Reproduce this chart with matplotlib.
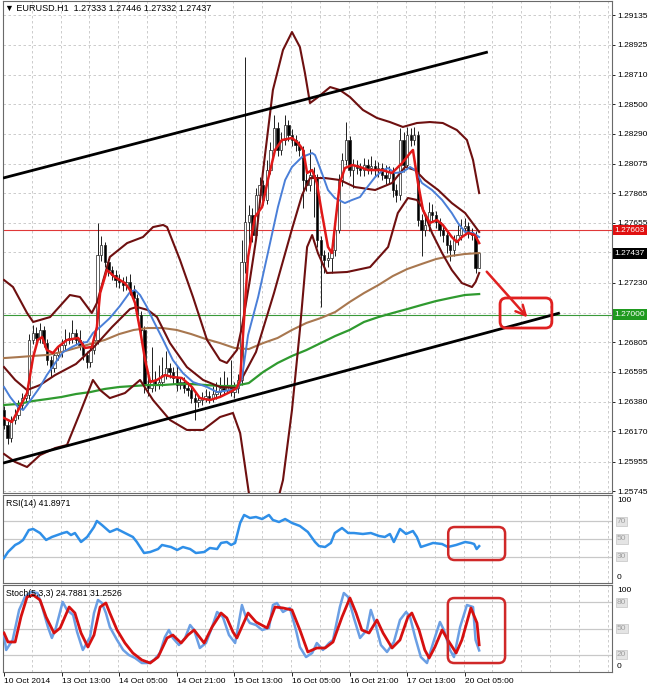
import matplotlib
matplotlib.use("Agg")
import matplotlib.pyplot as plt
import numpy as np
from matplotlib.patches import FancyBboxPatch

plt.rcParams['font.family'] = ['Liberation Sans', 'DejaVu Sans']

# ---------------- data (EURUSD H1) ----------------
open_ = [
1.26320, 1.26215, 1.26123, 1.26251, 1.26286, 1.26358, 1.26407, 1.26429, 1.26821, 1.26870,
1.26835, 1.26892, 1.26799, 1.26678, 1.26621, 1.26714, 1.26735, 1.26785, 1.26821, 1.26835,
1.26870, 1.26821, 1.26785, 1.26714, 1.26664, 1.26749, 1.26821, 1.27426, 1.27497, 1.27376,
1.27319, 1.27283, 1.27248, 1.27234, 1.27212, 1.27234, 1.27177, 1.27120, 1.26999, 1.26892,
1.26500, 1.26479, 1.26536, 1.26500, 1.26521, 1.26571, 1.26621, 1.26593, 1.26550, 1.26500,
1.26521, 1.26479, 1.26464, 1.26407, 1.26379, 1.26393, 1.26407, 1.26422, 1.26407, 1.26436,
1.26450, 1.26479, 1.26464, 1.26500, 1.26450, 1.26479, 1.26536, 1.27376, 1.27661, 1.27711,
1.27568, 1.27853, 1.27924, 1.27818, 1.28031, 1.28174, 1.28330, 1.28174, 1.28245, 1.28352,
1.28280, 1.28245, 1.28209, 1.28174, 1.27960, 1.27924, 1.27996, 1.27974, 1.27533, 1.27426,
1.27390, 1.27405, 1.27461, 1.27604, 1.27960, 1.28102, 1.28245, 1.28031, 1.28067, 1.28046,
1.28031, 1.28067, 1.28046, 1.28060, 1.28031, 1.28046, 1.27996, 1.27974, 1.28017, 1.27889,
1.27853, 1.28245, 1.28067, 1.28280, 1.28245, 1.28280, 1.27675, 1.27604, 1.27640, 1.27732,
1.27711, 1.27661, 1.27604, 1.27568, 1.27497, 1.27461, 1.27533, 1.27568, 1.27618, 1.27632,
1.27590, 1.27568, 1.27333]
high = [
1.26350, 1.26245, 1.26280, 1.26330, 1.26390, 1.26440, 1.26470, 1.26860, 1.26930, 1.26910,
1.26940, 1.26920, 1.26830, 1.26710, 1.26750, 1.26780, 1.26830, 1.26900, 1.26880, 1.26960,
1.26900, 1.26890, 1.26810, 1.26740, 1.26780, 1.26860, 1.27654, 1.27560, 1.27520, 1.27400,
1.27350, 1.27320, 1.27290, 1.27270, 1.27280, 1.27290, 1.27210, 1.27150, 1.27030, 1.26920,
1.26560, 1.26770, 1.26600, 1.26640, 1.26700, 1.26740, 1.26660, 1.26630, 1.26640, 1.26560,
1.26560, 1.26520, 1.26500, 1.26440, 1.26430, 1.26450, 1.26470, 1.26460, 1.26490, 1.26520,
1.26560, 1.26600, 1.26560, 1.26680, 1.26520, 1.26580, 1.27533, 1.28836, 1.27780, 1.27760,
1.27900, 1.27980, 1.27960, 1.28100, 1.28230, 1.28423, 1.28370, 1.28300, 1.28423, 1.28390,
1.28320, 1.28280, 1.28240, 1.28200, 1.28010, 1.28180, 1.28050, 1.28000, 1.27560, 1.27460,
1.27450, 1.27530, 1.27650, 1.28000, 1.28150, 1.28373, 1.28270, 1.28110, 1.28100, 1.28080,
1.28120, 1.28110, 1.28130, 1.28100, 1.28090, 1.28080, 1.28070, 1.28060, 1.28050, 1.27930,
1.28330, 1.28300, 1.28340, 1.28330, 1.28340, 1.28310, 1.27720, 1.27700, 1.27800, 1.27790,
1.27740, 1.27690, 1.27640, 1.27600, 1.27530, 1.27570, 1.27640, 1.27680, 1.27690, 1.27660,
1.27620, 1.27600, 1.27446]
low = [
1.26185, 1.26080, 1.26095, 1.26220, 1.26255, 1.26330, 1.26380, 1.26400, 1.26790, 1.26800,
1.26800, 1.26770, 1.26640, 1.26560, 1.26590, 1.26680, 1.26700, 1.26750, 1.26790, 1.26800,
1.26790, 1.26750, 1.26680, 1.26620, 1.26630, 1.26720, 1.26790, 1.27380, 1.27340, 1.27280,
1.27250, 1.27200, 1.27190, 1.27170, 1.27180, 1.27140, 1.27080, 1.26960, 1.26850, 1.26440,
1.26420, 1.26450, 1.26460, 1.26470, 1.26490, 1.26540, 1.26550, 1.26510, 1.26460, 1.26470,
1.26440, 1.26420, 1.26370, 1.26251, 1.26340, 1.26360, 1.26380, 1.26370, 1.26380, 1.26400,
1.26420, 1.26430, 1.26440, 1.26420, 1.26410, 1.26440, 1.26500, 1.27300, 1.27500, 1.27520,
1.27540, 1.27800, 1.27780, 1.27790, 1.28000, 1.28140, 1.28130, 1.28140, 1.28210, 1.28240,
1.28200, 1.28170, 1.28130, 1.27760, 1.27880, 1.27880, 1.27700, 1.27480, 1.27056, 1.27300,
1.27340, 1.27300, 1.27420, 1.27580, 1.27920, 1.28070, 1.27990, 1.27900, 1.28000, 1.27990,
1.27990, 1.28000, 1.28000, 1.27990, 1.27980, 1.27960, 1.27930, 1.27940, 1.27840, 1.27800,
1.27820, 1.28020, 1.28040, 1.28200, 1.28210, 1.27630, 1.27420, 1.27560, 1.27600, 1.27670,
1.27620, 1.27560, 1.27520, 1.27440, 1.27380, 1.27420, 1.27500, 1.27530, 1.27580, 1.27550,
1.27530, 1.27300, 1.27332]
close = [
1.26215, 1.26123, 1.26251, 1.26286, 1.26358, 1.26407, 1.26429, 1.26821, 1.26870, 1.26835,
1.26892, 1.26799, 1.26678, 1.26621, 1.26714, 1.26735, 1.26785, 1.26821, 1.26835, 1.26870,
1.26821, 1.26785, 1.26714, 1.26664, 1.26749, 1.26821, 1.27426, 1.27497, 1.27376, 1.27319,
1.27283, 1.27248, 1.27234, 1.27212, 1.27234, 1.27177, 1.27120, 1.26999, 1.26892, 1.26500,
1.26479, 1.26536, 1.26500, 1.26521, 1.26571, 1.26621, 1.26593, 1.26550, 1.26500, 1.26521,
1.26479, 1.26464, 1.26407, 1.26379, 1.26393, 1.26407, 1.26422, 1.26407, 1.26436, 1.26450,
1.26479, 1.26464, 1.26500, 1.26450, 1.26479, 1.26536, 1.27376, 1.27661, 1.27711, 1.27568,
1.27853, 1.27924, 1.27818, 1.28031, 1.28174, 1.28330, 1.28174, 1.28245, 1.28352, 1.28280,
1.28245, 1.28209, 1.28174, 1.27960, 1.27924, 1.27996, 1.27974, 1.27533, 1.27426, 1.27390,
1.27405, 1.27461, 1.27604, 1.27960, 1.28102, 1.28245, 1.28031, 1.28067, 1.28046, 1.28031,
1.28067, 1.28046, 1.28060, 1.28031, 1.28046, 1.27996, 1.27974, 1.28017, 1.27889, 1.27853,
1.28245, 1.28067, 1.28280, 1.28245, 1.28280, 1.27675, 1.27604, 1.27640, 1.27732, 1.27711,
1.27661, 1.27604, 1.27568, 1.27497, 1.27461, 1.27533, 1.27568, 1.27618, 1.27632, 1.27590,
1.27568, 1.27333, 1.27437]

# fast MA (red)
red_ma_bar = [0, 2.2, 4.4, 6.4, 8.1, 9.4, 10.6, 11.9, 13.6, 15, 17.5, 20.6, 22.5, 24.4, 25.8, 26.7,
              28.6, 30.8, 33.6, 35, 36.4, 37.8, 39.2, 40.6, 42.5, 44.7, 46.9, 49.4, 52.2, 54.4, 57.2,
              60, 62.8, 64.7, 65.6, 66.9, 67.8, 69.7, 71.7, 73.3, 75.3, 77.2, 80, 81.7, 83.1, 84.2,
              85.6, 86.9, 88.3, 90, 91.1, 91.9, 93.3, 94.7, 96.7, 98.9, 101.1, 105, 107.8, 110.6,
              112.8, 113.6, 115, 116.4, 118.3, 120.3, 121.9, 124.4, 125.8, 127.2, 128.9, 130.8, 132]
red_ma_val = [1.26265, 1.26237, 1.26343, 1.26443, 1.26699, 1.26821, 1.26842, 1.26749, 1.26728, 1.26771,
              1.26821, 1.26835, 1.26764, 1.26771, 1.26913, 1.27155, 1.27319, 1.27269, 1.27226, 1.27177,
              1.27084, 1.26892, 1.26678, 1.26521, 1.26536, 1.26571, 1.26557, 1.26550, 1.26486, 1.26407,
              1.26393, 1.26415, 1.26450, 1.26479, 1.26536, 1.27056, 1.27412, 1.27697, 1.27768, 1.27960,
              1.28174, 1.28245, 1.28259, 1.28224, 1.28174, 1.28010, 1.28031, 1.27939, 1.27725, 1.27483,
              1.27440, 1.27625, 1.27939, 1.28045, 1.28067, 1.28053, 1.28031, 1.28031, 1.28010, 1.28081,
              1.28152, 1.28174, 1.27939, 1.27746, 1.27654, 1.27675, 1.27640, 1.27554, 1.27518, 1.27554,
              1.27583, 1.27568, 1.27511]

# slower MA (blue)
blue_ma_bar = [0, 1.7, 3.9, 5.3, 7.8, 10, 11.9, 14.2, 16.4, 18.9, 21.1, 23.1, 24.7, 26.7, 29.4, 32.2,
               35, 36.4, 37.8, 39.7, 41.4, 44.2, 46.9, 49.7, 52.5, 56.4, 59.2, 62.8, 64.7, 66.1, 67.8,
               70.6, 73.3, 76.1, 78.1, 80, 82.8, 85.6, 86.4, 88.3, 90, 91.9, 94.7, 96.7, 98.9, 100.3,
               103.1, 105.3, 106.7, 108.6, 110.8, 112.8, 114.2, 116.1, 118.9, 121.7, 124.4, 126.1,
               128.1, 130.3, 132]
blue_ma_val = [1.26486, 1.26415, 1.26343, 1.26322, 1.26407, 1.26486, 1.26571, 1.26657, 1.26735, 1.26771,
               1.26799, 1.26806, 1.26870, 1.26913, 1.26977, 1.27063, 1.27162, 1.27177, 1.27141, 1.27056,
               1.26963, 1.26821, 1.26678, 1.26585, 1.26521, 1.26486, 1.26450, 1.26464, 1.26471, 1.26550,
               1.26856, 1.27127, 1.27440, 1.27768, 1.27960, 1.28053, 1.28124, 1.28152, 1.28138, 1.28010,
               1.27889, 1.27832, 1.27796, 1.27818, 1.27839, 1.27889, 1.27981, 1.28031, 1.28045, 1.28010,
               1.28017, 1.28053, 1.28031, 1.27939, 1.27889, 1.27818, 1.27725, 1.27654, 1.27590, 1.27583,
               1.27554]

# Bollinger bands (maroon)
bb_up_bar = [0, 2.5, 6.4, 8.1, 12.8, 18.3, 21.1, 24.4, 25.8, 29.4, 34.2, 38.6, 41.4, 44.2, 45.3, 48.9,
             52.5, 56.4, 60, 61.9, 64.7, 66.1, 68.3, 70, 71.9, 74.7, 77.5, 80, 82.2, 83.6, 85, 86.9,
             90.6, 93.3, 96.1, 99.7, 103.6, 107.2, 110.8, 114.7, 118.3, 121.9, 125.8, 128.6, 130.3, 132]
bb_up_val = [1.27248, 1.27198, 1.27013, 1.26949, 1.26984, 1.27141, 1.27127, 1.27013, 1.27084, 1.27412,
             1.27511, 1.27554, 1.27625, 1.27640, 1.27625, 1.27390, 1.27127, 1.26821, 1.26678, 1.26657,
             1.26749, 1.26913, 1.27248, 1.27533, 1.28010, 1.28601, 1.28886, 1.29014, 1.28907, 1.28722,
             1.28508, 1.28544, 1.28622, 1.28601, 1.28551, 1.28459, 1.28402, 1.28373, 1.28338, 1.28366,
             1.28373, 1.28366, 1.28316, 1.28245, 1.28102, 1.27867]
bb_mid_bar = [0, 3.1, 6.4, 10, 14.2, 20, 25, 30, 35, 36.9, 40, 42.5, 46.1, 50.8, 55.3, 60, 64.7, 70,
              75, 80, 82.8, 85, 89.2, 93.3, 97.5, 103.1, 107.8, 111.4, 114.2, 116.9, 120.6, 124.4,
              128.1, 132]
bb_mid_val = [1.26628, 1.26536, 1.26464, 1.26500, 1.26571, 1.26650, 1.26771, 1.26913, 1.27041, 1.27056,
              1.27034, 1.26984, 1.26799, 1.26628, 1.26536, 1.26486, 1.26479, 1.26735, 1.27155, 1.27611,
              1.27853, 1.27974, 1.27974, 1.27960, 1.27910, 1.27889, 1.27939, 1.28053, 1.28031, 1.27960,
              1.27889, 1.27796, 1.27725, 1.27590]
bb_lo_bar = [0, 3.1, 6.4, 10, 14.2, 17.5, 21.1, 24.7, 26.7, 29.4, 33.6, 37.8, 41.4, 46.1, 50.8, 55.3,
             60, 63.6, 65.6, 66.9, 68.3, 70, 72.5, 75, 77.5, 80, 82.2, 84.2, 85.6, 87.2, 89.7, 95.3,
             101.7, 106.7, 109.4, 112.2, 114.7, 116.1, 118.9, 121.7, 124.4, 127.2, 130, 131, 132]
bb_lo_val = [1.26009, 1.25952, 1.25916, 1.26001, 1.26051, 1.26073, 1.26301, 1.26536, 1.26464, 1.26407,
             1.26443, 1.26536, 1.26393, 1.26251, 1.26180, 1.26180, 1.26272, 1.26301, 1.26158, 1.25930,
             1.25681, 1.25539, 1.25467, 1.25574, 1.25823, 1.26322, 1.26892, 1.27483, 1.27568, 1.27440,
             1.27298, 1.27305, 1.27340, 1.27483, 1.27725, 1.27832, 1.27818, 1.27768, 1.27583, 1.27440,
             1.27319, 1.27226, 1.27198, 1.27233, 1.27298]

# long MAs, sampled every 4 bars
ma_long_bar = list(range(0, 133, 4))
brown_ma_val = [1.26692, 1.26699, 1.26707, 1.26714, 1.26735, 1.26764, 1.26792, 1.26821, 1.26863, 1.26892,
                1.26906, 1.26906, 1.26892, 1.26863, 1.26828, 1.26799, 1.26764, 1.26756, 1.26799, 1.26835,
                1.26892, 1.26942, 1.26977, 1.27020, 1.27091, 1.27155, 1.27212, 1.27276, 1.27326, 1.27362,
                1.27397, 1.27419, 1.27433, 1.27440]
green_ma_val = [1.26358, 1.26365, 1.26386, 1.26400, 1.26415, 1.26436, 1.26450, 1.26472, 1.26486, 1.26493,
                1.26500, 1.26500, 1.26507, 1.26507, 1.26500, 1.26493, 1.26493, 1.26514, 1.26593, 1.26657,
                1.26707, 1.26749, 1.26799, 1.26849, 1.26892, 1.26949, 1.26984, 1.27013, 1.27041, 1.27070,
                1.27098, 1.27120, 1.27141, 1.27148]

# trend channel
chan_up_bar = [-0.28, 134.4]
chan_up_val = [1.27974, 1.28872]
chan_lo_bar = [-0.28, 154.4]
chan_lo_val = [1.25944, 1.27013]
level_red = 1.27603
level_green = 1.27000
last_price = 1.27437

# RSI(14)
rsi_bar = [0, 1.1, 3.1, 4.2, 5.3, 6.9, 8.1, 10, 11.7, 13.3, 16.4, 17.5, 18.6, 19.7, 21.4, 23.1, 25, 25.8,
           27.2, 29.4, 31.4, 33.6, 35.8, 36.9, 38.9, 40.6, 42.8, 43.9, 46.4, 48.1, 49.7, 51.7, 53.3, 55.6,
           57.2, 59.2, 60.3, 61.9, 63.1, 64.2, 65.6, 66.7, 68.3, 70, 71.7, 73.6, 74.7, 76.4, 78.1, 80,
           82.2, 84.4, 86.4, 87.5, 89.2, 90.8, 91.9, 93.9, 95.6, 97.2, 99.7, 101.9, 104.2, 105.8, 107.2,
           108.3, 110, 111.7, 113.6, 114.7, 115.8, 117.5, 119.2, 121.7, 123.3, 125.6, 128.1, 129.7,
           130.6, 131.3, 132]
rsi_val = [28.4, 35.2, 43.2, 45.5, 48.9, 60.2, 61.4, 56.8, 48.9, 52.3, 56.8, 58, 54.5, 56.8, 46.6, 52.3,
           63.6, 70.5, 65.9, 58, 61.4, 56.8, 52.3, 46.6, 34.1, 35.2, 38.6, 43.2, 40.9, 37.5, 40.9, 38.6,
           34.1, 35.2, 39.8, 38.6, 45.5, 46.6, 43.2, 45.5, 68.2, 77.3, 73.9, 75, 72.7, 77.3, 71.6, 69.3,
           72.7, 68.2, 64.8, 58, 46.6, 42, 40.9, 45.5, 56.8, 62.5, 56.8, 56.8, 55.7, 56.8, 53.4, 52.3,
           55.7, 46.6, 61.4, 55.7, 59.1, 52.3, 40.9, 43.2, 45.5, 44.3, 40.9, 43.2, 46.6, 45.5, 44.3,
           38.6, 41.9]

# Stochastic(5,3,3)
stk_bar = [0, 0.6, 2.4, 4.2, 5.8, 7.5, 9.3, 10.6, 12.2, 13.3, 14.4, 16.3, 17.5, 19.2, 20.3, 21.9, 23.9,
           25, 26.1, 27.2, 28.3, 29.4, 31.4, 33.1, 34.7, 36.4, 38.3, 40, 41.7, 43.3, 44.7, 45.8, 46.9,
           48.6, 50.3, 51.7, 52.8, 54.4, 56.1, 57.8, 59.2, 60.8, 62.5, 64.2, 66.1, 67.2, 68.3, 70, 71.7,
           73.6, 74.7, 75.8, 77.5, 79.4, 81.1, 82.2, 83.9, 85.6, 86.9, 88.6, 90.3, 91.4, 93.3, 94.4,
           95.6, 97.2, 98.9, 100.8, 101.9, 103.1, 104.7, 106.4, 108.3, 110, 111.7, 112.8, 114.2, 115.8,
           117.5, 119.2, 121.1, 122.2, 123.9, 125, 126.7, 128.6, 130.3, 131, 132]
stk_val = [42.5, 25.3, 36.8, 71.3, 86.2, 92, 90.8, 74.7, 51.7, 39.1, 50.6, 80.5, 71.3, 65.5, 46, 25.3,
           40.2, 67.8, 82.8, 79.3, 67.8, 51.7, 36.8, 25.3, 19.5, 16.1, 10.3, 10.3, 13.8, 21.8, 40.2, 48.3,
           39.1, 31, 39.1, 54, 48.3, 27.6, 33.3, 51.7, 69, 63.2, 42.5, 33.3, 77, 63.2, 56.3, 54, 48.3,
           50.6, 77, 79.3, 69, 73.6, 48.3, 28.7, 17.2, 21.8, 33.3, 25.3, 33.3, 36.8, 74.7, 90.8, 86.2,
           62.1, 39.1, 48.3, 71.3, 56.3, 31, 23, 34.5, 59.8, 69, 63.2, 40.2, 17.2, 10.3, 33.3, 57.5,
           48.3, 25.3, 17.2, 51.7, 77, 74.7, 36.8, 24.8]
std_bar = [0, 1.1, 3.1, 4.7, 6.4, 8.1, 10, 11.7, 13.9, 15.6, 18.1, 19.7, 21.4, 23.3, 25, 26.7, 28.3,
           29.4, 31.4, 33.6, 35.8, 38.3, 40.6, 42.8, 45.3, 46.9, 49.2, 51.1, 52.8, 55.6, 57.8, 60.3,
           61.9, 63.6, 64.7, 67.8, 70, 73.1, 75.3, 77.5, 80, 82.2, 84.4, 86.9, 89.2, 91.4, 93.9, 96.1,
           97.8, 99.4, 101.4, 103.6, 105.3, 107.8, 110, 112.2, 113.3, 115.3, 116.9, 118.1, 119.7,
           121.7, 123.3, 125.6, 127.2, 129.7, 131.4, 132]
std_val = [44.8, 34.5, 34.5, 63.2, 86.2, 88.5, 82.8, 63.2, 44.8, 50.6, 74.7, 67.8, 44.8, 28.7, 42.5, 74.7,
           79.3, 67.8, 48.3, 33.3, 21.8, 13.8, 10.3, 17.2, 39.1, 42.5, 33.3, 42.5, 48.3, 33.3, 51.7, 67.8,
           62.1, 46, 39.1, 67.8, 57.5, 50.6, 74.7, 73.6, 71.3, 48.3, 23, 27.6, 27.6, 34.5, 63.2, 85.1,
           67.8, 48.3, 44.8, 59.8, 44.8, 27.6, 36.8, 63.2, 67.8, 48.3, 25.3, 16.1, 28.7, 48.3, 36.8,
           21.8, 36.8, 73.6, 56.3, 31.25]

price_ticks = [1.29135, 1.28925, 1.28710, 1.28500, 1.28290, 1.28075, 1.27865, 1.27655, 1.27445,
               1.27230, 1.27015, 1.26805, 1.26595, 1.26380, 1.26170, 1.25955, 1.25745]
time_bars = [0, 16, 32, 48, 64, 80, 96, 112, 128]
time_labels = ['10 Oct 2014', '13 Oct 13:00', '14 Oct 05:00', '14 Oct 21:00', '15 Oct 13:00',
               '16 Oct 05:00', '16 Oct 21:00', '17 Oct 13:00', '20 Oct 05:00']
header = "\u25BC EURUSD.H1  1.27333 1.27446 1.27332 1.27437"

# ---------------- figure ----------------
W, H = 650, 690
fig = plt.figure(figsize=(W / 100, H / 100), dpi=100)
fig.patch.set_facecolor('white')


def add_ax(l, t, r, b):
    return fig.add_axes([l / W, 1 - b / H, (r - l) / W, (b - t) / H])


ax = add_ax(3, 1, 612, 493)
ar = add_ax(3, 495, 612, 583)
ast = add_ax(3, 585, 612, 672)

GRID = '#c4c4c4'
FS = 6
for a in (ax, ar, ast):
    a.set_xlim(-0.28, 168.9)
    a.set_facecolor('white')
    for s in a.spines.values():
        s.set_color('#6a6a6a')
        s.set_linewidth(0.8)
    for k in range(1, 22):
        a.axvline(8 * k - 0.3, color=GRID, lw=0.6, ls=(0, (3, 3)), zorder=0)
    a.tick_params(axis='x', bottom=False, labelbottom=False)

# ---- main price panel ----
ax.set_ylim(1.25731, 1.29235)
ax.yaxis.tick_right()
ax.set_yticks(price_ticks)
ax.set_yticklabels(['' if t in (1.27445, 1.27015) else f'{t:.5f}' for t in price_ticks])
ax.tick_params(axis='y', direction='out', length=2.5, width=0.6, labelsize=FS, pad=1.2)
ax.grid(axis='y', color=GRID, lw=0.6, ls=(0, (3, 3)), zorder=0)

o = np.array(open_); hi = np.array(high); lo = np.array(low); c = np.array(close)
idx = np.arange(len(c))
bull = c >= o
ax.vlines(idx, lo, hi, color='#1e1e1e', lw=0.7, zorder=2)
ax.bar(idx[bull], (c - o)[bull], bottom=o[bull], width=0.62, color='white',
       edgecolor='#1e1e1e', lw=0.5, zorder=3)
ax.bar(idx[~bull], (o - c)[~bull], bottom=c[~bull], width=0.62, color='black',
       edgecolor='#1e1e1e', lw=0.5, zorder=3)

ax.axhline(level_red, color='#e03838', lw=0.8, zorder=1.5)
ax.axhline(level_green, color='#3a9a3a', lw=0.8, zorder=1.5)

ax.plot(ma_long_bar, green_ma_val, color='#2f9a2f', lw=1.6, zorder=4)
ax.plot(ma_long_bar, brown_ma_val, color='#a8774f', lw=1.5, zorder=4)
for bx, bv in ((bb_up_bar, bb_up_val), (bb_mid_bar, bb_mid_val), (bb_lo_bar, bb_lo_val)):
    ax.plot(bx, bv, color='#6e1010', lw=1.5, zorder=5)
ax.plot(blue_ma_bar, blue_ma_val, color='#4a7fd8', lw=1.4, zorder=6)
ax.plot(red_ma_bar, red_ma_val, color='#e01818', lw=1.8, zorder=7)

ax.plot(chan_up_bar, chan_up_val, color='black', lw=2, zorder=8, solid_capstyle='butt')
ax.plot(chan_lo_bar, chan_lo_val, color='black', lw=2, zorder=8, solid_capstyle='butt')

# red arrow and target box
ax.annotate('', xy=(145.4, 1.26982), xytext=(134.1, 1.27307),
            arrowprops=dict(arrowstyle='->,head_length=0.7,head_width=0.35',
                            color='#e02020', lw=1.8, shrinkA=0, shrinkB=0), zorder=9)
px_x = 3.6
px_y_main = 492 / (1.29235 - 1.25731)
ax.add_patch(FancyBboxPatch((137.8, 1.26906), 152.2 - 137.8, 1.27120 - 1.26906,
                            boxstyle='round,pad=0,rounding_size=1.8',
                            mutation_aspect=px_x / px_y_main,
                            fill=False, ec='#e02020', lw=2, zorder=9))

tr = ax.get_yaxis_transform()
for val, fc in ((level_red, '#e01010'), (last_price, 'black'), (level_green, '#1f9a1f')):
    ax.text(1.004, val, f'{val:.5f}', transform=tr, ha='left', va='center', fontsize=FS,
            color='white', zorder=20, clip_on=False,
            bbox=dict(boxstyle='square,pad=0.22', fc=fc, ec='none'))

fig.text(5 / W, 1 - 8 / H, header, fontsize=6.5, va='center', ha='left')

# ---- sub panels ----
def setup_osc(a, levels, title):
    a.set_ylim(0, 100)
    a.set_yticks([])
    for lv in levels:
        a.axhline(lv, color='#c8c8c8', lw=0.9, zorder=1)
    t = a.get_yaxis_transform()
    a.text(1.008, 98, '100', transform=t, ha='left', va='top', fontsize=FS, clip_on=False)
    a.text(1.008, 2, '0', transform=t, ha='left', va='bottom', fontsize=FS, clip_on=False)
    for lv in levels:
        a.text(1.008, lv, str(lv), transform=t, ha='left', va='center', fontsize=FS,
               color='#a0a0a0', clip_on=False,
               bbox=dict(boxstyle='square,pad=0.15', fc='#e4e4e4', ec='#c4c4c4', lw=0.5))
    a.text(0.005, 0.9, title, transform=a.transAxes, fontsize=6.3, va='center', ha='left', zorder=10)


setup_osc(ar, [70, 50, 30], 'RSI(14) 41.8971')
ar.plot(rsi_bar, rsi_val, color='#2f8fe8', lw=1.8, zorder=5)
ar.add_patch(FancyBboxPatch((123.4, 26.1), 139.2 - 123.4, 63.6 - 26.1,
                            boxstyle='round,pad=0,rounding_size=1.8',
                            mutation_aspect=px_x / 0.88,
                            fill=False, ec='#d02828', lw=1.8, zorder=9))

setup_osc(ast, [80, 50, 20], 'Stoch(5,3,3) 24.7881 31.2526')
ast.plot(stk_bar, stk_val, color='#6b9fe4', lw=1.8, zorder=5)
ast.plot(std_bar, std_val, color='#d61010', lw=2.0, zorder=6)
ast.add_patch(FancyBboxPatch((123.3, 10.3), 139.2 - 123.3, 85 - 10.3,
                             boxstyle='round,pad=0,rounding_size=1.8',
                             mutation_aspect=px_x / 0.87,
                             fill=False, ec='#d02828', lw=1.8, zorder=9))

ast.set_xticks(time_bars)
ast.set_xticklabels(time_labels)
ast.tick_params(axis='x', bottom=True, labelbottom=True, direction='out', length=3,
                width=0.6, labelsize=FS, pad=1.5)
for lbl in ast.get_xticklabels():
    lbl.set_horizontalalignment('left')

fig.savefig('out.png', dpi=100, facecolor='white')
